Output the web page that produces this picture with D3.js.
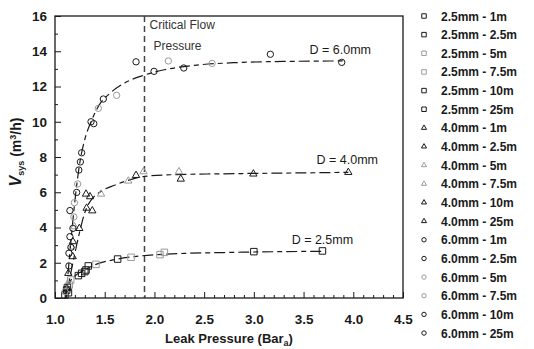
<!DOCTYPE html>
<html>
<head>
<meta charset="utf-8">
<script src="https://cdn.jsdelivr.net/npm/d3@7"></script>
<style>
  body { margin: 0; background: #fff; }
  svg text { font-family: Arial, "Liberation Sans", sans-serif; }
</style>
</head>
<body>
<div id="chart"></div>
<script>
// legend entries (diameter - distance)
const seriesNames = [
  '2.5mm - 1m', '2.5mm - 2.5m', '2.5mm - 5m', '2.5mm - 7.5m', '2.5mm - 10m', '2.5mm - 25m',
  '4.0mm - 1m', '4.0mm - 2.5m', '4.0mm - 5m', '4.0mm - 7.5m', '4.0mm - 10m', '4.0mm - 25m',
  '6.0mm - 1m', '6.0mm - 2.5m', '6.0mm - 5m', '6.0mm - 7.5m', '6.0mm - 10m', '6.0mm - 25m'
];
const seriesShapes = ['square', 'square', 'square', 'square', 'square', 'square',
  'triangle', 'triangle', 'triangle', 'triangle', 'triangle', 'triangle',
  'circle', 'circle', 'circle', 'circle', 'circle', 'circle'];
const seriesGrey = [false, false, true, true, false, false,
  false, false, true, true, false, false,
  false, false, true, true, false, false];

// measured points [pressure, flow], one array per series
const pts25_1 = [[1.10, 0.17], [1.235, 1.27], [1.63, 2.21], [3.69, 2.67]];
const pts25_2 = [[1.117, 0.45], [1.268, 1.40], [1.335, 1.82], [3.0, 2.63]];
const pts25_5 = [[1.144, 0.74], [1.412, 1.91], [2.10, 2.59]];
const pts25_7 = [[1.158, 1.02], [1.765, 2.31], [2.056, 2.46]];
const pts25_10 = [[1.125, 0.60], [1.312, 1.59]];
const pts25_25 = [[1.135, 0.30], [1.30, 1.50]];
const pts40_1 = [[1.134, 1.40], [1.318, 5.10], [1.815, 6.96]];
const pts40_2 = [[1.178, 2.35], [1.375, 4.95], [2.995, 7.04]];
const pts40_5 = [[1.168, 2.90], [1.463, 5.90], [1.89, 7.17]];
const pts40_7 = [[1.195, 4.05], [1.737, 6.64], [2.247, 7.17]];
const pts40_10 = [[1.12, 0.55], [1.18, 3.20], [2.265, 6.75]];
const pts40_25 = [[1.245, 3.95], [1.312, 5.90], [1.352, 5.75], [3.95, 7.13]];
const pts60_1 = [[1.15, 4.96], [1.24, 7.26], [1.996, 12.86], [3.884, 13.37]];
const pts60_2 = [[1.14, 1.82], [1.255, 7.72], [1.362, 10.0], [1.815, 13.40]];
const pts60_5 = [[1.10, 0.36], [1.195, 5.41], [1.436, 10.76], [2.14, 13.45]];
const pts60_7 = [[1.19, 4.60], [1.228, 6.47], [1.62, 11.50], [2.58, 13.31]];
const pts60_10 = [[1.15, 3.48], [1.18, 3.95], [1.268, 8.24], [1.486, 11.29], [2.295, 13.05]];
const pts60_25 = [[1.14, 2.54], [1.16, 2.87], [1.218, 5.99], [1.39, 9.89], [3.166, 13.83]];
const seriesPoints = [pts25_1, pts25_2, pts25_5, pts25_7, pts25_10, pts25_25,
  pts40_1, pts40_2, pts40_5, pts40_7, pts40_10, pts40_25,
  pts60_1, pts60_2, pts60_5, pts60_7, pts60_10, pts60_25];

// fitted curves
const fit25 = [[1.10, 0], [1.15, 0.9], [1.20, 1.25], [1.30, 1.6], [1.40, 1.88], [1.60, 2.18],
  [1.80, 2.35], [2.0, 2.45], [2.3, 2.53], [2.7, 2.58], [3.0, 2.61], [3.7, 2.65]];
const fit40 = [[1.11, 0], [1.18, 2.0], [1.25, 3.8], [1.30, 4.85], [1.35, 5.45], [1.45, 6.0],
  [1.60, 6.4], [1.75, 6.7], [1.90, 6.9], [2.2, 7.0], [2.6, 7.04], [3.0, 7.07], [3.5, 7.1], [3.95, 7.13]];
const fit60 = [[1.11, 0], [1.15, 2.6], [1.20, 5.5], [1.25, 7.7], [1.30, 9.0], [1.37, 10.1],
  [1.45, 11.0], [1.55, 11.6], [1.70, 12.2], [1.90, 12.65], [2.1, 12.95], [2.4, 13.2],
  [2.8, 13.35], [3.3, 13.42], [3.9, 13.45]];
const fitLabels = ['D = 2.5mm', 'D = 4.0mm', 'D = 6.0mm'];
const fitLabelPos = [[3.38, 3.05], [3.63, 7.6], [3.56, 13.85]];

const criticalPressure = 1.9;
const xTicks = [1.0, 1.5, 2.0, 2.5, 3.0, 3.5, 4.0, 4.5];
const yTicks = [0, 2, 4, 6, 8, 10, 12, 14, 16];

const W = 534, H = 349;
const plot = { left: 55, right: 403, top: 16, bottom: 298 };

const svg = d3.select('#chart').append('svg')
  .attr('width', W)
  .attr('height', H);

const x = d3.scaleLinear().domain([1.0, 4.5]).range([plot.left, plot.right]);
const y = d3.scaleLinear().domain([0, 16]).range([plot.bottom, plot.top]);

const black = '#1a1a1a';
const grey = '#9a9a9a';

// frame
svg.append('rect')
  .attr('x', plot.left).attr('y', plot.top)
  .attr('width', plot.right - plot.left).attr('height', plot.bottom - plot.top)
  .attr('fill', 'none').attr('stroke', black).attr('stroke-width', 1.3);

// axes with inward ticks
const xMinor = d3.range(10, 46).map(d => d / 10).filter(d => Math.abs(d * 2 - Math.round(d * 2)) > 1e-6);
svg.append('g')
  .attr('transform', `translate(0,${plot.bottom})`)
  .call(d3.axisBottom(x).tickValues(xMinor).tickSize(-3).tickFormat(''))
  .call(g => g.select('.domain').remove())
  .call(g => g.selectAll('line').attr('stroke', black));
svg.append('g')
  .attr('transform', `translate(0,${plot.bottom})`)
  .call(d3.axisBottom(x).tickValues(xTicks).tickSize(-6).tickPadding(16).tickFormat(d3.format('.1f')))
  .call(g => g.select('.domain').remove())
  .call(g => g.selectAll('line').attr('stroke', black))
  .call(g => g.selectAll('text').attr('font-size', 13.5).attr('font-weight', 'bold').attr('fill', black)
    .attr('font-family', 'Arial, "Liberation Sans", sans-serif'));

const yMinor = d3.range(1, 16, 2);
svg.append('g')
  .attr('transform', `translate(${plot.left},0)`)
  .call(d3.axisLeft(y).tickValues(yMinor).tickSize(-3).tickFormat(''))
  .call(g => g.select('.domain').remove())
  .call(g => g.selectAll('line').attr('stroke', black));
svg.append('g')
  .attr('transform', `translate(${plot.left},0)`)
  .call(d3.axisLeft(y).tickValues(yTicks).tickSize(-6).tickPadding(8))
  .call(g => g.select('.domain').remove())
  .call(g => g.selectAll('line').attr('stroke', black))
  .call(g => g.selectAll('text').attr('font-size', 13.5).attr('font-weight', 'bold').attr('fill', black)
    .attr('font-family', 'Arial, "Liberation Sans", sans-serif'));

// axis titles
svg.append('text')
  .attr('x', (plot.left + plot.right) / 2)
  .attr('y', 343)
  .attr('text-anchor', 'middle')
  .attr('font-size', 13).attr('font-weight', 'bold').attr('fill', black)
  .text('Leak Pressure (Bar')
  .append('tspan').attr('font-size', 9).attr('dy', 3).text('a')
  .select(function () { return this.parentNode; })
  .append('tspan').attr('dy', -3).text(')');

const yt = svg.append('text')
  .attr('transform', 'translate(21,152) rotate(-90)')
  .attr('text-anchor', 'middle')
  .attr('font-size', 14).attr('font-weight', 'bold').attr('fill', black);
yt.append('tspan').attr('font-style', 'italic').attr('font-size', 16).text('V');
yt.append('tspan').attr('font-size', 9).attr('dy', 3).text('sys');
yt.append('tspan').attr('dy', -3).text(' (m');
yt.append('tspan').attr('font-size', 9).attr('dy', -5).text('3');
yt.append('tspan').attr('dy', 5).text('/h)');

// critical flow pressure line
svg.append('line')
  .attr('x1', x(criticalPressure)).attr('x2', x(criticalPressure))
  .attr('y1', y(16)).attr('y2', y(0))
  .attr('stroke', '#444').attr('stroke-width', 1.5).attr('stroke-dasharray', '6,4');
svg.append('text')
  .attr('x', x(criticalPressure) + 5).attr('y', 29)
  .attr('font-size', 12).attr('fill', '#333').text('Critical Flow');
svg.append('text')
  .attr('x', x(criticalPressure) + 9).attr('y', 50)
  .attr('font-size', 12).attr('fill', '#333').text('Pressure');

// fitted curves
const line = d3.line().x(d => x(d[0])).y(d => y(d[1])).curve(d3.curveMonotoneX);
[fit25, fit40, fit60].forEach((f, i) => {
  svg.append('path')
    .attr('d', line(f))
    .attr('fill', 'none')
    .attr('stroke', black)
    .attr('stroke-width', 1.2)
    .attr('stroke-dasharray', '11,4,5,4');
  svg.append('text')
    .attr('x', x(fitLabelPos[i][0])).attr('y', y(fitLabelPos[i][1]))
    .attr('font-size', 12.5).attr('fill', black).text(fitLabels[i]);
});

// markers
function marker(sel, shape, size) {
  const sym = shape === 'square' ? d3.symbolSquare : shape === 'triangle' ? d3.symbolTriangle : d3.symbolCircle;
  const area = shape === 'triangle' ? size * size * 0.55 : shape === 'square' ? size * size : size * size * 0.75;
  return sel.append('path').attr('d', d3.symbol().type(sym).size(area)());
}

seriesPoints.forEach((pts, i) => {
  const color = seriesGrey[i] ? grey : black;
  svg.append('g').selectAll('g')
    .data(pts)
    .join('g')
    .attr('transform', d => `translate(${x(d[0])},${y(d[1])})`)
    .each(function () {
      marker(d3.select(this), seriesShapes[i], 6.5)
        .attr('fill', 'none').attr('stroke', color).attr('stroke-width', 1);
    });
});

// legend
const legend = svg.append('g');
seriesNames.forEach((name, i) => {
  const cy = 16 + i * 18.65;
  const g = legend.append('g').attr('transform', `translate(424,${cy})`);
  marker(g, seriesShapes[i], 4.5)
    .attr('fill', 'none').attr('stroke', seriesGrey[i] ? grey : black).attr('stroke-width', 1);
  legend.append('text')
    .attr('x', 441).attr('y', cy + 4.5)
    .attr('font-size', 12).attr('font-weight', 'bold').attr('fill', black)
    .text(name);
});
</script>
</body>
</html>
